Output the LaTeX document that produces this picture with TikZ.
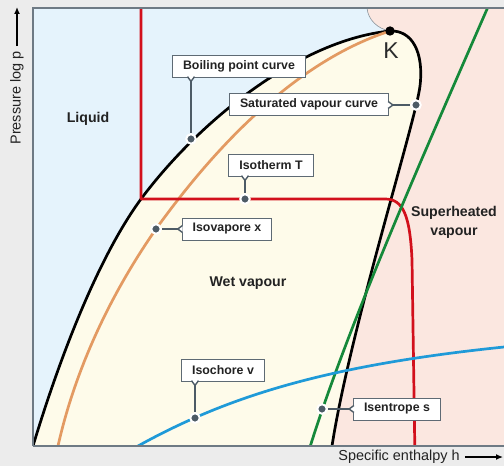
\documentclass[tikz,border=0pt]{standalone}
\usepackage{fontspec}
\setmainfont{Liberation Sans}
\usepackage{tikz}
\usetikzlibrary{arrows.meta,calc}
\definecolor{fondo}{HTML}{ECECEC}
\definecolor{liquido}{HTML}{E5F3FC}
\definecolor{humedo}{HTML}{FEFBEA}
\definecolor{recalentado}{HTML}{FBE7E0}
\definecolor{ejegris}{HTML}{6E7A84}
\definecolor{cajagris}{HTML}{5E6A74}
\definecolor{guiagris}{HTML}{4D5B66}
\definecolor{isoterma}{HTML}{D2101C}
\definecolor{isentropa}{HTML}{15893A}
\definecolor{isocora}{HTML}{1F9AD8}
\definecolor{isovapor}{HTML}{E39A62}
\definecolor{textooscuro}{HTML}{222222}

\begin{document}
\begin{tikzpicture}[
  x=1bp, y=-1bp,
  font=\fontsize{12}{14}\selectfont,
  eje/.style={draw=ejegris, line width=1.5bp},
  curva/.style={line width=2.7bp, line join=round},
  etiqueta/.style={draw=cajagris, fill=white, line width=0.9bp,
                   font=\fontsize{12.4}{14}\selectfont\bfseries,
                   text=textooscuro, inner xsep=10.5bp, inner ysep=0pt,
                   minimum height=22bp},
  punto/.style={circle, fill=guiagris, draw=white, line width=2bp,
                inner sep=0pt, minimum size=9.5bp},
  guia/.style={draw=guiagris, line width=1.4bp},
  zona/.style={font=\fontsize{14.2}{19}\selectfont\bfseries, text=textooscuro,
               align=center},
  rotuloeje/.style={font=\fontsize{14.5}{16}\selectfont, text=textooscuro,
                    inner sep=1pt},
  flecha/.style={-{Latex[length=7bp,width=6bp]}, line width=1.3bp},
]
\useasboundingbox (0,0) rectangle (504,466);
\fill[fondo] (0,0) rectangle (504,466);
% --- Zonas del diagrama ----------------------------------------------------
\begin{scope}
\clip (33,8) rectangle (504,446);
\fill[liquido] (33,8) rectangle (504,446);
\fill[recalentado] (367,8) .. controls (368,20) and (378,29) .. (390,31)
  .. controls (412,30) and (424,52) .. (420,86)
  .. controls (416,120) and (350,330) .. (332,446)
  -- (504,446) -- (504,8) -- cycle;
\fill[humedo] (33,446) .. controls (62,350) and (100,255) .. (141,199)
  .. controls (200,120) and (300,40) .. (390,31)
  .. controls (412,30) and (424,52) .. (420,86)
  .. controls (416,120) and (350,330) .. (332,446) -- cycle;
\draw[ejegris!80, line width=0.6bp] (367,8) .. controls (368,20) and (378,29)
  .. (390,31);
% --- Curvas -----------------------------------------------------------------
\draw[curva, black] (33,446) .. controls (62,350) and (100,255) .. (141,199)
  .. controls (200,120) and (300,40) .. (390,31)
  .. controls (412,30) and (424,52) .. (420,86)
  .. controls (416,120) and (350,330) .. (332,446);
\draw[curva, isovapor] (390,31) .. controls (300,60) and (220,140) .. (156,229)
  .. controls (110,295) and (75,370) .. (58,446);
\draw[curva, isoterma] (141,0) -- (141,199) -- (385,199)
  .. controls (403,199) and (410,215) .. (412,260) -- (415,460);
\draw[curva, isentropa] (491,0) .. controls (430,140) and (345,330) .. (306,460);
\draw[curva, isocora] (138,446) .. controls (230,395) and (330,365) .. (504,347);
\end{scope}
% --- Ejes -------------------------------------------------------------------
\draw[eje] (33,446) -- (33,8) -- (504,8);
\draw[eje] (33,446) -- (504,446);
% --- Punto critico ------------------------------------------------------------
\fill[black] (390,31) circle (4.7bp);
\node[font=\fontsize{23}{25}\selectfont, text=textooscuro!90!ejegris]
  (critico) at (391,51) {K};
% --- Zonas: rotulos -------------------------------------------------------------
\node[zona] (liquid) at (88,119) {Liquid};
\node[zona] (wet) at (248,283) {Wet vapour};
\node[zona] (super) at (454,222) {Superheated\\vapour};
% --- Boiling point curve -----------------------------------------------------
\node[etiqueta] (boil) at (239,66) {Boiling point curve};
\node[punto] (boildot) at (191,139) {};
\coordinate (boiltip) at ($(boil.south -| boildot)+(0,4)$);
\draw[guia, fill=white] ($(boil.south -| boildot)+(-3.5,-0.8)$) -- (boiltip)
  -- ($(boil.south -| boildot)+(3.5,-0.8)$);
\draw[guia] (boiltip) -- (boildot);
% --- Saturated vapour curve --------------------------------------------------
\node[etiqueta] (sat) at (309,104) {Saturated vapour curve};
\node[punto] (satdot) at (416,105) {};
\coordinate (sattip) at ($(sat.east |- satdot)+(4,0)$);
\draw[guia, fill=white] ($(sat.east |- satdot)+(-0.8,-3.5)$) -- (sattip)
  -- ($(sat.east |- satdot)+(-0.8,3.5)$);
\draw[guia] (sattip) -- (satdot);
% --- Isotherm T ----------------------------------------------------------------
\node[etiqueta] (isot) at (271,165) {Isotherm T};
\node[punto] (isotdot) at (245,199) {};
\coordinate (isottip) at ($(isot.south -| isotdot)+(0,4)$);
\draw[guia, fill=white] ($(isot.south -| isotdot)+(-3.5,-0.8)$) -- (isottip)
  -- ($(isot.south -| isotdot)+(3.5,-0.8)$);
\draw[guia] (isottip) -- (isotdot);
% --- Isovapore x ------------------------------------------------------------------
\node[etiqueta] (isov) at (227,229) {Isovapore x};
\node[punto] (isovdot) at (156,229) {};
\coordinate (isovtip) at ($(isov.west |- isovdot)+(-4,0)$);
\draw[guia, fill=white] ($(isov.west |- isovdot)+(0.8,-3.5)$) -- (isovtip)
  -- ($(isov.west |- isovdot)+(0.8,3.5)$);
\draw[guia] (isovtip) -- (isovdot);
% --- Isochore v ----------------------------------------------------------------
\node[etiqueta] (isoc) at (223,370) {Isochore v};
\node[punto] (isocdot) at (195,418) {};
\coordinate (isoctip) at ($(isoc.south -| isocdot)+(0,4)$);
\draw[guia, fill=white] ($(isoc.south -| isocdot)+(-3.5,-0.8)$) -- (isoctip)
  -- ($(isoc.south -| isocdot)+(3.5,-0.8)$);
\draw[guia] (isoctip) -- (isocdot);
% --- Isentrope s ---------------------------------------------------------------
\node[etiqueta] (isen) at (397,409) {Isentrope s};
\node[punto] (isendot) at (322,409) {};
\coordinate (isentip) at ($(isen.west |- isendot)+(-4,0)$);
\draw[guia, fill=white] ($(isen.west |- isendot)+(0.8,-3.5)$) -- (isentip)
  -- ($(isen.west |- isendot)+(0.8,3.5)$);
\draw[guia] (isentip) -- (isendot);
% --- Rotulos de los ejes ---------------------------------------------------------
\node[rotuloeje, rotate=90] (presion) at (17,98) {Pressure log p};
\coordinate (ptope) at (17,7);
\draw[flecha] ([xshift=0bp]presion.east) ++(0,-4) -- (ptope);
\node[rotuloeje] (entalpia) at (399,457) {Specific enthalpy h};
\coordinate (hfin) at (503,457);
\draw[flecha] (entalpia.east) ++(4,0) -- (hfin);
\end{tikzpicture}
\end{document}
